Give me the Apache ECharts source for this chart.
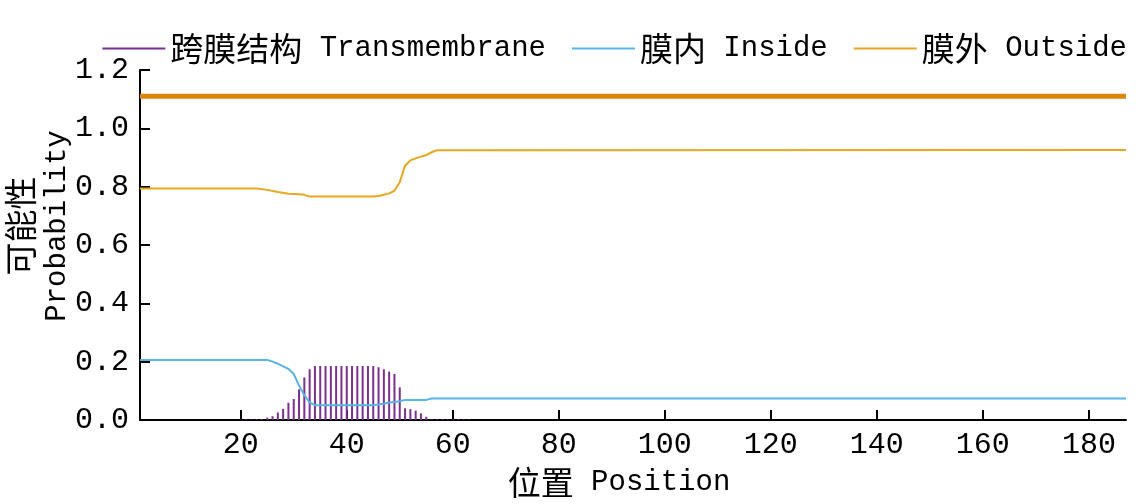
<!DOCTYPE html>
<html>
<head>
<meta charset="utf-8">
<script src="https://cdn.jsdelivr.net/npm/echarts@6/dist/echarts.min.js"></script>
<style>
html,body{margin:0;padding:0;background:#fff;}
#chart{width:1140px;height:504px;}
</style>
</head>
<body>
<div id="chart"></div>
<script>
// ---- data ----
const seriesNames = ['跨膜结构 Transmembrane', '膜内 Inside', '膜外 Outside'];
const xTicks = [20, 40, 60, 80, 100, 120, 140, 160, 180];
const yTicks = [0, 0.2, 0.4, 0.6, 0.8, 1.0, 1.2];

// transmembrane probability per position [position, probability]
const tmPos = [21,22,23,24,25,26,27,28,29,30,31,32,33,34,35,36,37,38,39,40,41,42,43,44,45,46,47,48,49,50,51,52,53,54,55,56,57,58,59,60,61,62,63];
const tmVal = [0.002,0.002,0.002,0.003,0.008,0.013,0.026,0.038,0.059,0.072,0.105,0.146,0.174,0.185,0.185,0.185,0.185,0.185,0.185,0.185,0.185,0.185,0.185,0.185,0.185,0.181,0.174,0.166,0.158,0.112,0.040,0.037,0.032,0.023,0.011,0.002,0.002,0.002,0.002,0.002,0.002,0.002,0.002];

// inside probability
const inPos = [1,25,26,27,28,29,30,31,32,33,34,45,46,47,48,49,50,51,55,56,187];
const inVal = [0.206,0.206,0.200,0.193,0.184,0.175,0.158,0.118,0.085,0.060,0.051,0.051,0.053,0.056,0.060,0.062,0.064,0.069,0.069,0.074,0.074];

// outside probability
const outPos = [1,23,25,27,29,31,32,33,45,46,47,48,49,50,51,52,53,54,55,56,57,187];
const outVal = [0.794,0.794,0.789,0.782,0.776,0.774,0.772,0.766,0.766,0.768,0.772,0.777,0.786,0.815,0.872,0.890,0.897,0.903,0.908,0.918,0.925,0.926];

// predicted topology (outside along whole sequence)
const topoPos = [1, 187];
const topoVal = [1.11, 1.11];

const zip = (a, b) => a.map((v, i) => [v, b[i]]);

const CJK = 'Noto Sans CJK SC';
const MONO = 'Liberation Mono';

const chart = echarts.init(document.getElementById('chart'), null, {renderer: 'canvas'});
chart.setOption({
  animation: false,
  backgroundColor: '#fff',
  grid: {left: 140, right: 14, top: 70, bottom: 84, containLabel: false, outerBoundsMode: 'none'},
  legend: {
    data: seriesNames,
    right: 8,
    top: 27,
    icon: 'rect',
    itemWidth: 63,
    itemHeight: 2,
    itemGap: 26,
    formatter: function (name) {
      const i = name.indexOf(' ');
      return '{c|' + name.slice(0, i) + '}{e|' + name.slice(i) + '}';
    },
    textStyle: {
      color: '#000',
      rich: {
        c: {fontFamily: CJK, fontSize: 33, color: '#000'},
        e: {fontFamily: MONO, fontSize: 29, color: '#000'}
      }
    }
  },
  xAxis: {
    type: 'value',
    min: 1,
    max: 187,
    name: '{c|位置}{e| Position}',
    nameLocation: 'middle',
    nameGap: 46,
    nameMoveOverlap: false,
    nameTextStyle: {
      padding: [0, 28, 0, 0],
      rich: {
        c: {fontFamily: CJK, fontSize: 33, color: '#000'},
        e: {fontFamily: MONO, fontSize: 29, color: '#000'}
      }
    },
    axisLine: {show: true, lineStyle: {color: '#000', width: 2}},
    axisTick: {show: true, inside: true, length: 10, lineStyle: {color: '#000', width: 2}, customValues: xTicks},
    axisLabel: {color: '#000', fontFamily: MONO, fontSize: 30, margin: 10, customValues: xTicks},
    splitLine: {show: false}
  },
  yAxis: {
    type: 'value',
    min: 0,
    max: 1.2,
    interval: 0.2,
    name: '{c|可能性}\n{e|Probability}',
    nameLocation: 'middle',
    nameRotate: 90,
    nameGap: 64,
    nameMoveOverlap: false,
    nameTextStyle: {
      padding: [0, 0, 0, 38],
      rich: {
        c: {fontFamily: CJK, fontSize: 33, lineHeight: 37, color: '#000'},
        e: {fontFamily: MONO, fontSize: 29, lineHeight: 37, color: '#000'}
      }
    },
    axisLine: {show: true, lineStyle: {color: '#000', width: 2}},
    axisTick: {show: true, inside: true, length: 10, lineStyle: {color: '#000', width: 2}},
    axisLabel: {
      color: '#000', fontFamily: MONO, fontSize: 30, margin: 11,
      customValues: yTicks,
      formatter: v => Number(v).toFixed(1)
    },
    splitLine: {show: false}
  },
  series: [
    {
      name: seriesNames[0],
      type: 'bar',
      data: zip(tmPos, tmVal),
      barWidth: 2,
      itemStyle: {color: '#7b2f8e'},
      z: 2
    },
    {
      name: seriesNames[1],
      type: 'line',
      data: zip(inPos, inVal),
      symbol: 'none',
      lineStyle: {color: '#56b4e6', width: 2},
      itemStyle: {color: '#56b4e6'},
      z: 3
    },
    {
      name: seriesNames[2],
      type: 'line',
      data: zip(outPos, outVal),
      symbol: 'none',
      lineStyle: {color: '#e9a61f', width: 2},
      itemStyle: {color: '#e9a61f'},
      z: 3
    },
    {
      name: 'topology',
      type: 'line',
      data: zip(topoPos, topoVal),
      symbol: 'none',
      lineStyle: {color: '#d8860c', width: 5},
      itemStyle: {color: '#d8860c'},
      z: 3
    }
  ]
});
</script>
</body>
</html>
